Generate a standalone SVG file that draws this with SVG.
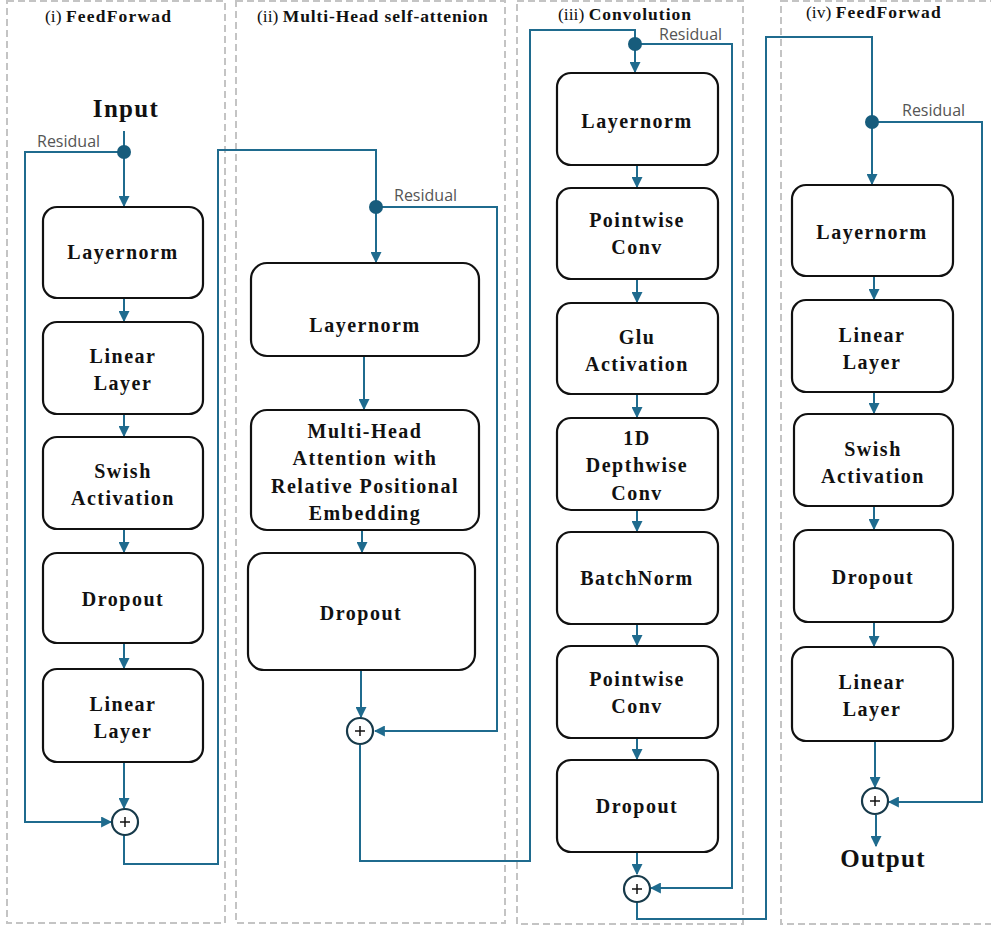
<svg xmlns="http://www.w3.org/2000/svg" width="991" height="929" viewBox="0 0 991 929">
<style>
.panel{fill:none;stroke:#c4c4c4;stroke-width:2;stroke-dasharray:7 4}
.box{fill:#fff;stroke:#111;stroke-width:2.2}
.lbl{font-family:"Liberation Serif","Times New Roman",serif;font-weight:bold;font-size:20px;letter-spacing:1.5px;fill:#111;text-anchor:middle}
.ttl{font-family:"Liberation Serif","Times New Roman",serif;font-size:17.5px;fill:#111}
.big{font-family:"Liberation Serif","Times New Roman",serif;font-weight:bold;font-size:25px;letter-spacing:1.3px;fill:#111;text-anchor:middle}
.res{font-family:"Open Sans","DejaVu Sans",sans-serif;font-size:16px;fill:#555}
.ln{fill:none;stroke:#1f6b8e;stroke-width:2}
.arr{fill:none;stroke:#1f6b8e;stroke-width:2;marker-end:url(#ah)}
.dot{fill:#175c7c}
.sum{fill:#fff;stroke:#173a4a;stroke-width:2.2}
.plus{stroke:#111;stroke-width:1.5}
</style>
<defs>
<marker id="ah" viewBox="0 0 10 10" refX="9" refY="5" markerWidth="5.5" markerHeight="5.5" orient="auto" markerUnits="strokeWidth">
<path d="M0,0 L10,5 L0,10 z" fill="#1f6b8e"/>
</marker>
</defs>
<rect width="991" height="929" fill="#fff"/>
<g id="panels">
<rect class="panel" x="7" y="1" width="218" height="922"/>
<rect class="panel" x="236" y="1" width="269" height="922"/>
<rect class="panel" x="517" y="1" width="226" height="923"/>
<rect class="panel" x="781" y="1" width="216" height="923"/>
<text class="ttl" x="45" y="22">(i) <tspan font-weight="bold" letter-spacing="1.2">FeedForwad</tspan></text>
<text class="ttl" x="257" y="22">(ii) <tspan font-weight="bold" letter-spacing="0.9">Multi-Head self-attenion</tspan></text>
<text class="ttl" x="558" y="20">(iii) <tspan font-weight="bold" letter-spacing="1">Convolution</tspan></text>
<text class="ttl" x="806" y="18">(iv) <tspan font-weight="bold" letter-spacing="1.2">FeedForwad</tspan></text>
</g>
<g id="connectors">
<line class="ln" x1="124" y1="131" x2="124" y2="152"/>
<line class="arr" x1="124" y1="152" x2="124" y2="206"/>
<polyline class="arr" points="124,152 25,152 25,822 111,822"/>
<line class="arr" x1="124" y1="298" x2="124" y2="321"/>
<line class="arr" x1="124" y1="414" x2="124" y2="436"/>
<line class="arr" x1="124" y1="529" x2="124" y2="552"/>
<line class="arr" x1="124" y1="643" x2="124" y2="668"/>
<line class="arr" x1="124" y1="762" x2="124" y2="808"/>
<polyline class="ln" points="124,835 124,864 218,864 218,150 376,150 376,207"/>
<line class="arr" x1="376" y1="207" x2="376" y2="262"/>
<polyline class="arr" points="376,207 497,207 497,731 375,731"/>
<line class="arr" x1="364" y1="356" x2="364" y2="409"/>
<line class="arr" x1="362" y1="530" x2="362" y2="552"/>
<line class="arr" x1="361" y1="670" x2="361" y2="717"/>
<polyline class="ln" points="360,745 360,861 530,861 530,30 635,30 635,44"/>
<line class="arr" x1="635" y1="44" x2="635" y2="72"/>
<polyline class="arr" points="635,44 732,44 732,888 651,888"/>
<line class="arr" x1="637" y1="165" x2="637" y2="187"/>
<line class="arr" x1="637" y1="279" x2="637" y2="302"/>
<line class="arr" x1="637" y1="394" x2="637" y2="417"/>
<line class="arr" x1="637" y1="510" x2="637" y2="531"/>
<line class="arr" x1="637" y1="624" x2="637" y2="645"/>
<line class="arr" x1="637" y1="738" x2="637" y2="759"/>
<line class="arr" x1="637" y1="852" x2="637" y2="874"/>
<polyline class="ln" points="637,902 637,919 766,919 766,37 872,37 872,122"/>
<line class="arr" x1="872" y1="122" x2="872" y2="184"/>
<polyline class="arr" points="872,122 982,122 982,802 889,802"/>
<line class="arr" x1="874" y1="276" x2="874" y2="299"/>
<line class="arr" x1="874" y1="392" x2="874" y2="413"/>
<line class="arr" x1="874" y1="506" x2="874" y2="529"/>
<line class="arr" x1="874" y1="622" x2="874" y2="646"/>
<line class="arr" x1="875" y1="741" x2="875" y2="787"/>
<line class="arr" x1="876" y1="815" x2="876" y2="846"/>
<circle class="dot" cx="124" cy="152" r="7"/>
<circle class="dot" cx="376" cy="207" r="7"/>
<circle class="dot" cx="635" cy="44" r="7"/>
<circle class="dot" cx="872" cy="122" r="7"/>
<text class="res" x="37" y="147">Residual</text>
<text class="res" x="394" y="201">Residual</text>
<text class="res" x="659" y="40">Residual</text>
<text class="res" x="902" y="116">Residual</text>
</g>
<g id="sum1"><circle class="sum" cx="125" cy="822" r="13"/><line class="plus" x1="120" y1="822" x2="130" y2="822"/><line class="plus" x1="125" y1="817" x2="125" y2="827"/></g>
<g id="sum2"><circle class="sum" cx="360" cy="731" r="13"/><line class="plus" x1="355" y1="731" x2="365" y2="731"/><line class="plus" x1="360" y1="726" x2="360" y2="736"/></g>
<g id="sum3"><circle class="sum" cx="637" cy="889" r="13"/><line class="plus" x1="632" y1="889" x2="642" y2="889"/><line class="plus" x1="637" y1="884" x2="637" y2="894"/></g>
<g id="sum4"><circle class="sum" cx="875" cy="801" r="13"/><line class="plus" x1="870" y1="801" x2="880" y2="801"/><line class="plus" x1="875" y1="796" x2="875" y2="806"/></g>
<g id="input"><text class="big" x="126" y="117">Input</text></g>
<g id="output"><text class="big" x="883" y="867" font-size="26">Output</text></g>
<g id="i-layernorm"><rect class="box" x="43" y="207" width="160" height="91" rx="14"/><text class="lbl" x="123" y="259">Layernorm</text></g>
<g id="i-linear1"><rect class="box" x="43" y="322" width="160" height="92" rx="14"/><text class="lbl" x="123" y="363">Linear</text><text class="lbl" x="123" y="390">Layer</text></g>
<g id="i-swish"><rect class="box" x="43" y="437" width="160" height="92" rx="14"/><text class="lbl" x="123" y="478">Swish</text><text class="lbl" x="123" y="505">Activation</text></g>
<g id="i-dropout"><rect class="box" x="43" y="553" width="160" height="90" rx="14"/><text class="lbl" x="123" y="606">Dropout</text></g>
<g id="i-linear2"><rect class="box" x="43" y="669" width="160" height="93" rx="14"/><text class="lbl" x="123" y="711">Linear</text><text class="lbl" x="123" y="738">Layer</text></g>
<g id="ii-layernorm"><rect class="box" x="251" y="263" width="228" height="93" rx="16"/><text class="lbl" x="365" y="332">Layernorm</text></g>
<g id="ii-mha"><rect class="box" x="251" y="410" width="228" height="120" rx="16"/><text class="lbl" x="365" y="438">Multi-Head</text><text class="lbl" x="365" y="465">Attention with</text><text class="lbl" x="365" y="493" letter-spacing="0.8">Relative Positional</text><text class="lbl" x="365" y="520">Embedding</text></g>
<g id="ii-dropout"><rect class="box" x="248" y="553" width="227" height="117" rx="16"/><text class="lbl" x="361" y="620">Dropout</text></g>
<g id="iii-layernorm"><rect class="box" x="557" y="73" width="161" height="92" rx="14"/><text class="lbl" x="637" y="128">Layernorm</text></g>
<g id="iii-pw1"><rect class="box" x="557" y="188" width="161" height="91" rx="14"/><text class="lbl" x="637" y="227">Pointwise</text><text class="lbl" x="637" y="254">Conv</text></g>
<g id="iii-glu"><rect class="box" x="557" y="303" width="161" height="91" rx="14"/><text class="lbl" x="637" y="344">Glu</text><text class="lbl" x="637" y="371">Activation</text></g>
<g id="iii-dw"><rect class="box" x="557" y="418" width="161" height="92" rx="14"/><text class="lbl" x="637" y="445">1D</text><text class="lbl" x="637" y="472">Depthwise</text><text class="lbl" x="637" y="500">Conv</text></g>
<g id="iii-bn"><rect class="box" x="557" y="532" width="161" height="92" rx="14"/><text class="lbl" x="637" y="585">BatchNorm</text></g>
<g id="iii-pw2"><rect class="box" x="557" y="646" width="161" height="92" rx="14"/><text class="lbl" x="637" y="686">Pointwise</text><text class="lbl" x="637" y="713">Conv</text></g>
<g id="iii-dropout"><rect class="box" x="557" y="760" width="161" height="92" rx="14"/><text class="lbl" x="637" y="813">Dropout</text></g>
<g id="iv-layernorm"><rect class="box" x="792" y="185" width="161" height="91" rx="14"/><text class="lbl" x="872" y="239">Layernorm</text></g>
<g id="iv-linear1"><rect class="box" x="792" y="300" width="161" height="92" rx="14"/><text class="lbl" x="872" y="342">Linear</text><text class="lbl" x="872" y="369">Layer</text></g>
<g id="iv-swish"><rect class="box" x="794" y="414" width="159" height="92" rx="14"/><text class="lbl" x="873" y="456">Swish</text><text class="lbl" x="873" y="483">Activation</text></g>
<g id="iv-dropout"><rect class="box" x="794" y="530" width="159" height="92" rx="14"/><text class="lbl" x="873" y="584">Dropout</text></g>
<g id="iv-linear2"><rect class="box" x="792" y="647" width="161" height="94" rx="14"/><text class="lbl" x="872" y="689">Linear</text><text class="lbl" x="872" y="716">Layer</text></g>
</svg>
